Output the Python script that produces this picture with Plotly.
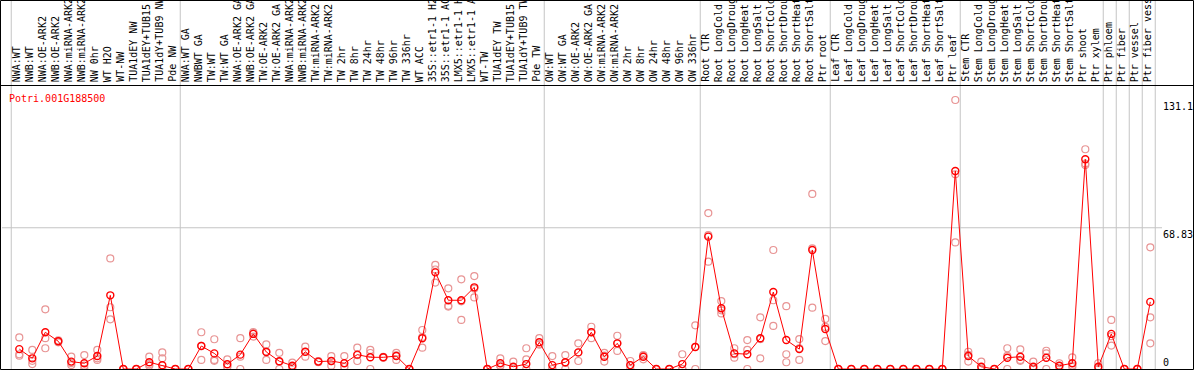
import plotly.graph_objects as go

W, H = 1194, 370

labels = [
    "NWA:WT", "NWB:WT", "NWA:OE-ARK2", "NWB:OE-ARK2", "NWA:miRNA-ARK2", "NWB:miRNA-ARK2",
    "NW 0hr", "WT H2O", "WT-NW", "TUA1dEY NW", "TUA1dEY+TUB15", "TUA1dY+TUB9 NW", "Pde NW",
    "NWA:WT GA", "NWBWT GA", "TW:WT", "TW:WT GA", "NWA:OE-ARK2 GA", "NWB:OE-ARK2 GA",
    "TW:OE-ARK2", "TW:OE-ARK2 GA", "NWA:miRNA-ARK2", "NWB:miRNA-ARK2", "TW:miRNA-ARK2",
    "TW:miRNA-ARK2", "TW 2hr", "TW 8hr", "TW 24hr", "TW 48hr", "TW 96hr", "TW 336hr",
    "WT ACC", "35S::etr1-1 H2", "35S::etr1-1 AC", "LMX5::etr1-1 H", "LMX5::etr1-1 A",
    "WT-TW", "TUA1dEY TW", "TUA1dEY+TUB15", "TUA1dY+TUB9 TW", "Pde TW",
    "OW:WT", "OW:WT GA", "OW:OE-ARK2", "OW:OE-ARK2 GA", "OW:miRNA-ARK2", "OW:miRNA-ARK2",
    "OW 2hr", "OW 8hr", "OW 24hr", "OW 48hr", "OW 96hr", "OW 336hr",
    "Root CTR", "Root LongCold", "Root LongDroug", "Root LongHeat", "Root LongSalt",
    "Root ShortCold", "Root ShortDrou", "Root ShortHeat", "Root ShortSalt", "Ptr root",
    "Leaf CTR", "Leaf LongCold", "Leaf LongDroug", "Leaf LongHeat", "Leaf LongSalt",
    "Leaf ShortCold", "Leaf ShortDrou", "Leaf ShortHeat", "Leaf ShortSalt", "Ptr leaf",
    "Stem CTR", "Stem LongCold", "Stem LongDroug", "Stem LongHeat", "Stem LongSalt",
    "Stem ShortCold", "Stem ShortDrou", "Stem ShortHeat", "Stem ShortSalt", "Ptr shoot",
    "Ptr xylem", "Ptr phloem", "Ptr fiber", "Ptr vessel", "Ptr fiber vess",
]

means = [
    9.7, 5.2, 17.9, 13.5, 3.6, 2.8, 6.3, 35.9, 0, 0, 3.3, 1.8, 0,
    0, 11.2, 7.6, 2.3, 7.0, 17.1, 8.3, 3.8, 1.6, 8.4, 3.6, 3.9, 2.8, 7.0, 5.7, 5.7, 6.3, 0,
    15.0, 47.1, 33.5, 33.5, 39.8, 0, 2.8, 1.1, 2.4, 13.0,
    1.9, 3.3, 8.1, 17.9, 6.0, 12.5, 1.9, 6.0, 0, 0, 2.4, 10.7,
    64.5, 29.6, 7.6, 7.2, 15.0, 37.5, 14.1, 9.7, 58.0, 19.5,
    0, 0, 0, 0, 0, 0, 0, 0, 0, 96.5,
    6.3, 1.1, 0, 5.5, 6.0, 1.1, 5.5, 1.6, 2.8, 102.2,
    1.1, 17.1, 0, 0, 32.7,
]

replicates = [
    [15.4, 6.5, 7.2], [9.3, 2.4, 4.0], [29.1, 15.0, 10.1], [13.6, 13.0, 14.0],
    [6.0, 1.9, 2.9], [6.8, 0, 1.6], [9.3, 4.4, 5.2], [53.9, 30.1, 24.2],
    [0, 0, 0], [0, 0, 0], [6.0, 1.6, 2.3], [8.1, 5.2, 0], [0, 0, 0],
    [0, 0, 0], [17.9, 4.4, 11.3], [14.5, 4.4, 4.0], [4.7, 1.0, 1.2], [15.0, 0, 6.0],
    [17.5, 15.8, 18.0], [12.0, 4.4, 8.5], [7.9, 0, 3.5], [3.1, 1.0, 0.7],
    [10.9, 8.4, 6.0], [3.6, 3.3, 3.9], [6.3, 1.6, 3.8], [6.3, 1.0, 1.1],
    [10.4, 3.9, 6.7], [9.3, 0, 7.8], [5.7, 5.5, 5.9], [7.9, 4.4, 6.6], [0, 0, 0],
    [19.0, 10.4, 15.6], [50.7, 42.1, 48.5], [39.3, 30.4, 30.8], [43.7, 23.9, 33.0],
    [45.3, 34.9, 39.2], [0, 0, 0], [5.2, 1.6, 1.6], [3.6, 0, 0], [10.1, 4.7, 0],
    [15.0, 12.0, 12.0],
    [6.3, 0, 0], [6.8, 0, 3.0], [12.5, 3.9, 8.0], [20.6, 15.0, 18.0], [7.9, 3.6, 6.5],
    [16.2, 8.8, 12.5], [3.9, 0, 1.8], [4.7, 6.5, 6.8], [0, 0, 0], [0, 0, 0],
    [7.2, 0, 0], [21.3, 0, 10.8],
    [76.0, 52.3, 65.2], [33.1, 27.1, 28.6], [10.1, 5.5, 7.2], [14.1, 9.3, 0],
    [25.2, 5.2, 14.6], [58.0, 21.0, 33.5], [30.6, 7.2, 3.3], [14.6, 4.4, 10.1],
    [85.3, 29.9, 58.8], [24.4, 13.6, 20.5],
    [0, 0, 0], [0, 0, 0], [0, 0, 0], [0, 0, 0], [0, 0, 0], [0, 0, 0], [0, 0, 0],
    [0, 0, 0], [0, 0, 0], [131.1, 61.7, 94.9],
    [8.4, 3.6, 6.9], [3.6, 0, 0], [0, 0, 0], [10.1, 0, 6.4], [9.6, 4.4, 4.0],
    [3.6, 0, 0], [8.9, 0, 7.6], [2.8, 0.5, 1.5], [5.7, 1.0, 1.7], [107.1, 99.4, 100.1],
    [2.8, 0.5, 0], [23.9, 11.4, 16.0], [0, 0, 0], [0, 0, 0], [59.3, 25.2, 12.5],
]

group_starts = [0, 13, 41, 53, 63, 73, 84, 85, 86, 87, 88]
gene_name = "Potri.001G188500"
tick_vals = [0, 68.83, 131.1]
tick_text = ["0", "68.83", "131.1"]

FONT = "DejaVu Sans Mono"
idx = list(range(len(labels)))


def px_x(p):
    return p / W


def px_y(p):
    return 1 - p / H


fig = go.Figure()

rx, ry = [], []
for i, vals in enumerate(replicates):
    for v in vals:
        rx.append(i)
        ry.append(v)

fig.add_trace(go.Scatter(
    x=rx, y=ry, mode="markers",
    marker=dict(symbol="circle-open", size=7, color="#e89494", line=dict(width=1.2, color="#e89494")),
    hoverinfo="skip", showlegend=False, cliponaxis=False,
))
fig.add_trace(go.Scatter(
    x=idx, y=means, mode="lines+markers",
    line=dict(color="#ff0000", width=1),
    marker=dict(symbol="circle-open", size=7, color="#ff0000", line=dict(width=1.4, color="#ff0000")),
    showlegend=False, cliponaxis=False,
))

shapes = []
for g in group_starts:
    shapes.append(dict(type="line", xref="x", yref="paper", x0=g - 0.62, x1=g - 0.62,
                       y0=0, y1=1, line=dict(color="#c4c4c4", width=1), layer="below"))
shapes.append(dict(type="line", xref="paper", yref="y", x0=px_x(2), x1=px_x(1162),
                   y0=tick_vals[1], y1=tick_vals[1], line=dict(color="#c4c4c4", width=1), layer="below"))
shapes.append(dict(type="rect", xref="paper", yref="paper", x0=px_x(0.5), x1=px_x(1193.5),
                   y0=px_y(369.5), y1=px_y(0.5), line=dict(color="black", width=1)))
shapes.append(dict(type="line", xref="paper", yref="paper", x0=0, x1=1,
                   y0=px_y(85.5), y1=px_y(85.5), line=dict(color="black", width=1)))

annotations = []
for i, lab in enumerate(labels):
    annotations.append(dict(x=i, y=px_y(83), xref="x", yref="paper", text=lab, textangle=-90,
                            xanchor="center", yanchor="bottom", showarrow=False, borderpad=0,
                            xshift=-3, font=dict(family=FONT, size=10, color="black")))
annotations.append(dict(x=px_x(8), y=px_y(92), xref="paper", yref="paper", text=gene_name,
                        xanchor="left", yanchor="top", showarrow=False, borderpad=0,
                        font=dict(family=FONT, size=10, color="#ff0000")))
for v, t in zip(tick_vals, tick_text):
    annotations.append(dict(x=px_x(1162), y=v, xref="paper", yref="y", text=t,
                            xanchor="left", yanchor="bottom" if v == 0 else "top",
                            showarrow=False, borderpad=0,
                            font=dict(family=FONT, size=10, color="black")))

x0 = -19.3 / 13.0
fig.update_layout(
    width=W, height=H,
    margin=dict(l=0, r=0, t=0, b=0),
    paper_bgcolor="white", plot_bgcolor="white",
    xaxis=dict(range=[x0, x0 + W / 13.0], domain=[0, 1], showgrid=False, zeroline=False,
               showticklabels=False, showline=False, ticks=""),
    yaxis=dict(range=[0, 138.4], domain=[px_y(369), px_y(85)], showgrid=False, zeroline=False,
               showticklabels=False, showline=False, ticks=""),
    shapes=shapes, annotations=annotations,
    showlegend=False,
)

fig.write_html(
    "out.html",
    config={"displayModeBar": False},
    post_script="document.body.style.margin='0px';document.body.style.overflow='hidden';",
)
